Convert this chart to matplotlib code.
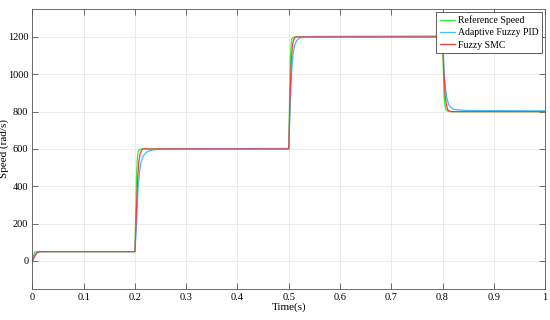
import numpy as np
import matplotlib
matplotlib.use("Agg")
from matplotlib import pyplot as plt

plt.rcParams['font.family'] = ['Liberation Serif', 'DejaVu Serif']

# reference speed (green)
t_ref = [0, 0.002, 0.004, 0.006, 0.01, 0.2, 0.2015, 0.203, 0.2045, 0.206, 0.209, 0.213, 0.5,
         0.5015, 0.503, 0.5045, 0.506, 0.509, 0.513, 0.8, 0.8015, 0.803, 0.8045, 0.806, 0.809, 0.814, 1.0]
w_ref = [0, 30, 44, 49, 50, 50, 260, 450, 545, 585, 598, 600, 600,
         850, 1080, 1160, 1190, 1199, 1200, 1200, 1030, 900, 840, 815, 803, 800, 800]

# adaptive fuzzy PID (blue)
t_pid = [0, 0.004, 0.008, 0.012, 0.018, 0.2, 0.203, 0.206, 0.209, 0.212, 0.216, 0.222, 0.23, 0.24, 0.26, 0.5,
         0.503, 0.506, 0.509, 0.512, 0.516, 0.522, 0.53, 0.55, 0.8, 0.803, 0.806, 0.809, 0.812, 0.816, 0.822, 0.83, 0.85, 1.0]
w_pid = [0, 22, 40, 47, 50, 50, 200, 390, 480, 530, 562, 582, 592, 597, 600, 603,
         840, 1030, 1120, 1160, 1183, 1195, 1200, 1203, 1205, 1020, 920, 865, 838, 822, 813, 809, 806, 804]

# fuzzy SMC (red)
t_smc = [0, 0.004, 0.008, 0.012, 0.016, 0.2, 0.2025, 0.205, 0.2075, 0.21, 0.213, 0.217, 0.222, 0.5,
         0.5025, 0.505, 0.5075, 0.51, 0.513, 0.517, 0.522, 0.8, 0.8025, 0.805, 0.8075, 0.81, 0.813, 0.818, 1.0]
w_smc = [0, 25, 43, 49, 50, 50, 240, 430, 530, 575, 594, 601, 600, 600,
         880, 1080, 1160, 1188, 1199, 1201, 1200, 1200, 1010, 890, 835, 812, 803, 800, 800]

fig = plt.figure(figsize=(5.5, 3.2), dpi=100)
ax = fig.add_axes([0.059, 0.097, 0.932, 0.875])

ax.plot(t_ref, w_ref, color='#33ee33', lw=0.9, label='Reference Speed')
ax.plot(t_pid, w_pid, color='#44bbff', lw=0.9, label='Adaptive Fuzzy PID')
ax.plot(t_smc, w_smc, color='#f04040', lw=0.9, label='Fuzzy SMC')

ax.set_xlim(0, 1)
ax.set_ylim(-150, 1350)
ax.set_xticks(np.arange(0, 1.01, 0.1))
ax.set_xticklabels(['0', '0.1', '0.2', '0.3', '0.4', '0.5', '0.6', '0.7', '0.8', '0.9', '1'])
ax.set_yticks([0, 200, 400, 600, 800, 1000, 1200])
ax.tick_params(direction='in', top=True, right=True, length=4, width=0.6,
               labelsize=7.5, color='#555555', pad=3)
ax.grid(True, color='#e8e8e8', lw=0.6)
for s in ax.spines.values():
    s.set_color('#555555')
    s.set_linewidth(0.6)

ax.set_xlabel('Time(s)', fontsize=8, labelpad=0)
ax.set_ylabel('Speed (rad/s)', fontsize=8)
ax.yaxis.set_label_coords(-0.046, 0.5)

leg = ax.legend(loc='upper right', fontsize=7, frameon=True, fancybox=False,
                edgecolor='#444444', framealpha=1, handlelength=1.6,
                borderpad=0.35, labelspacing=0.35, handletextpad=0.3,
                borderaxespad=0.3)
leg.get_frame().set_linewidth(0.6)

fig.savefig('out.png', dpi=100)
